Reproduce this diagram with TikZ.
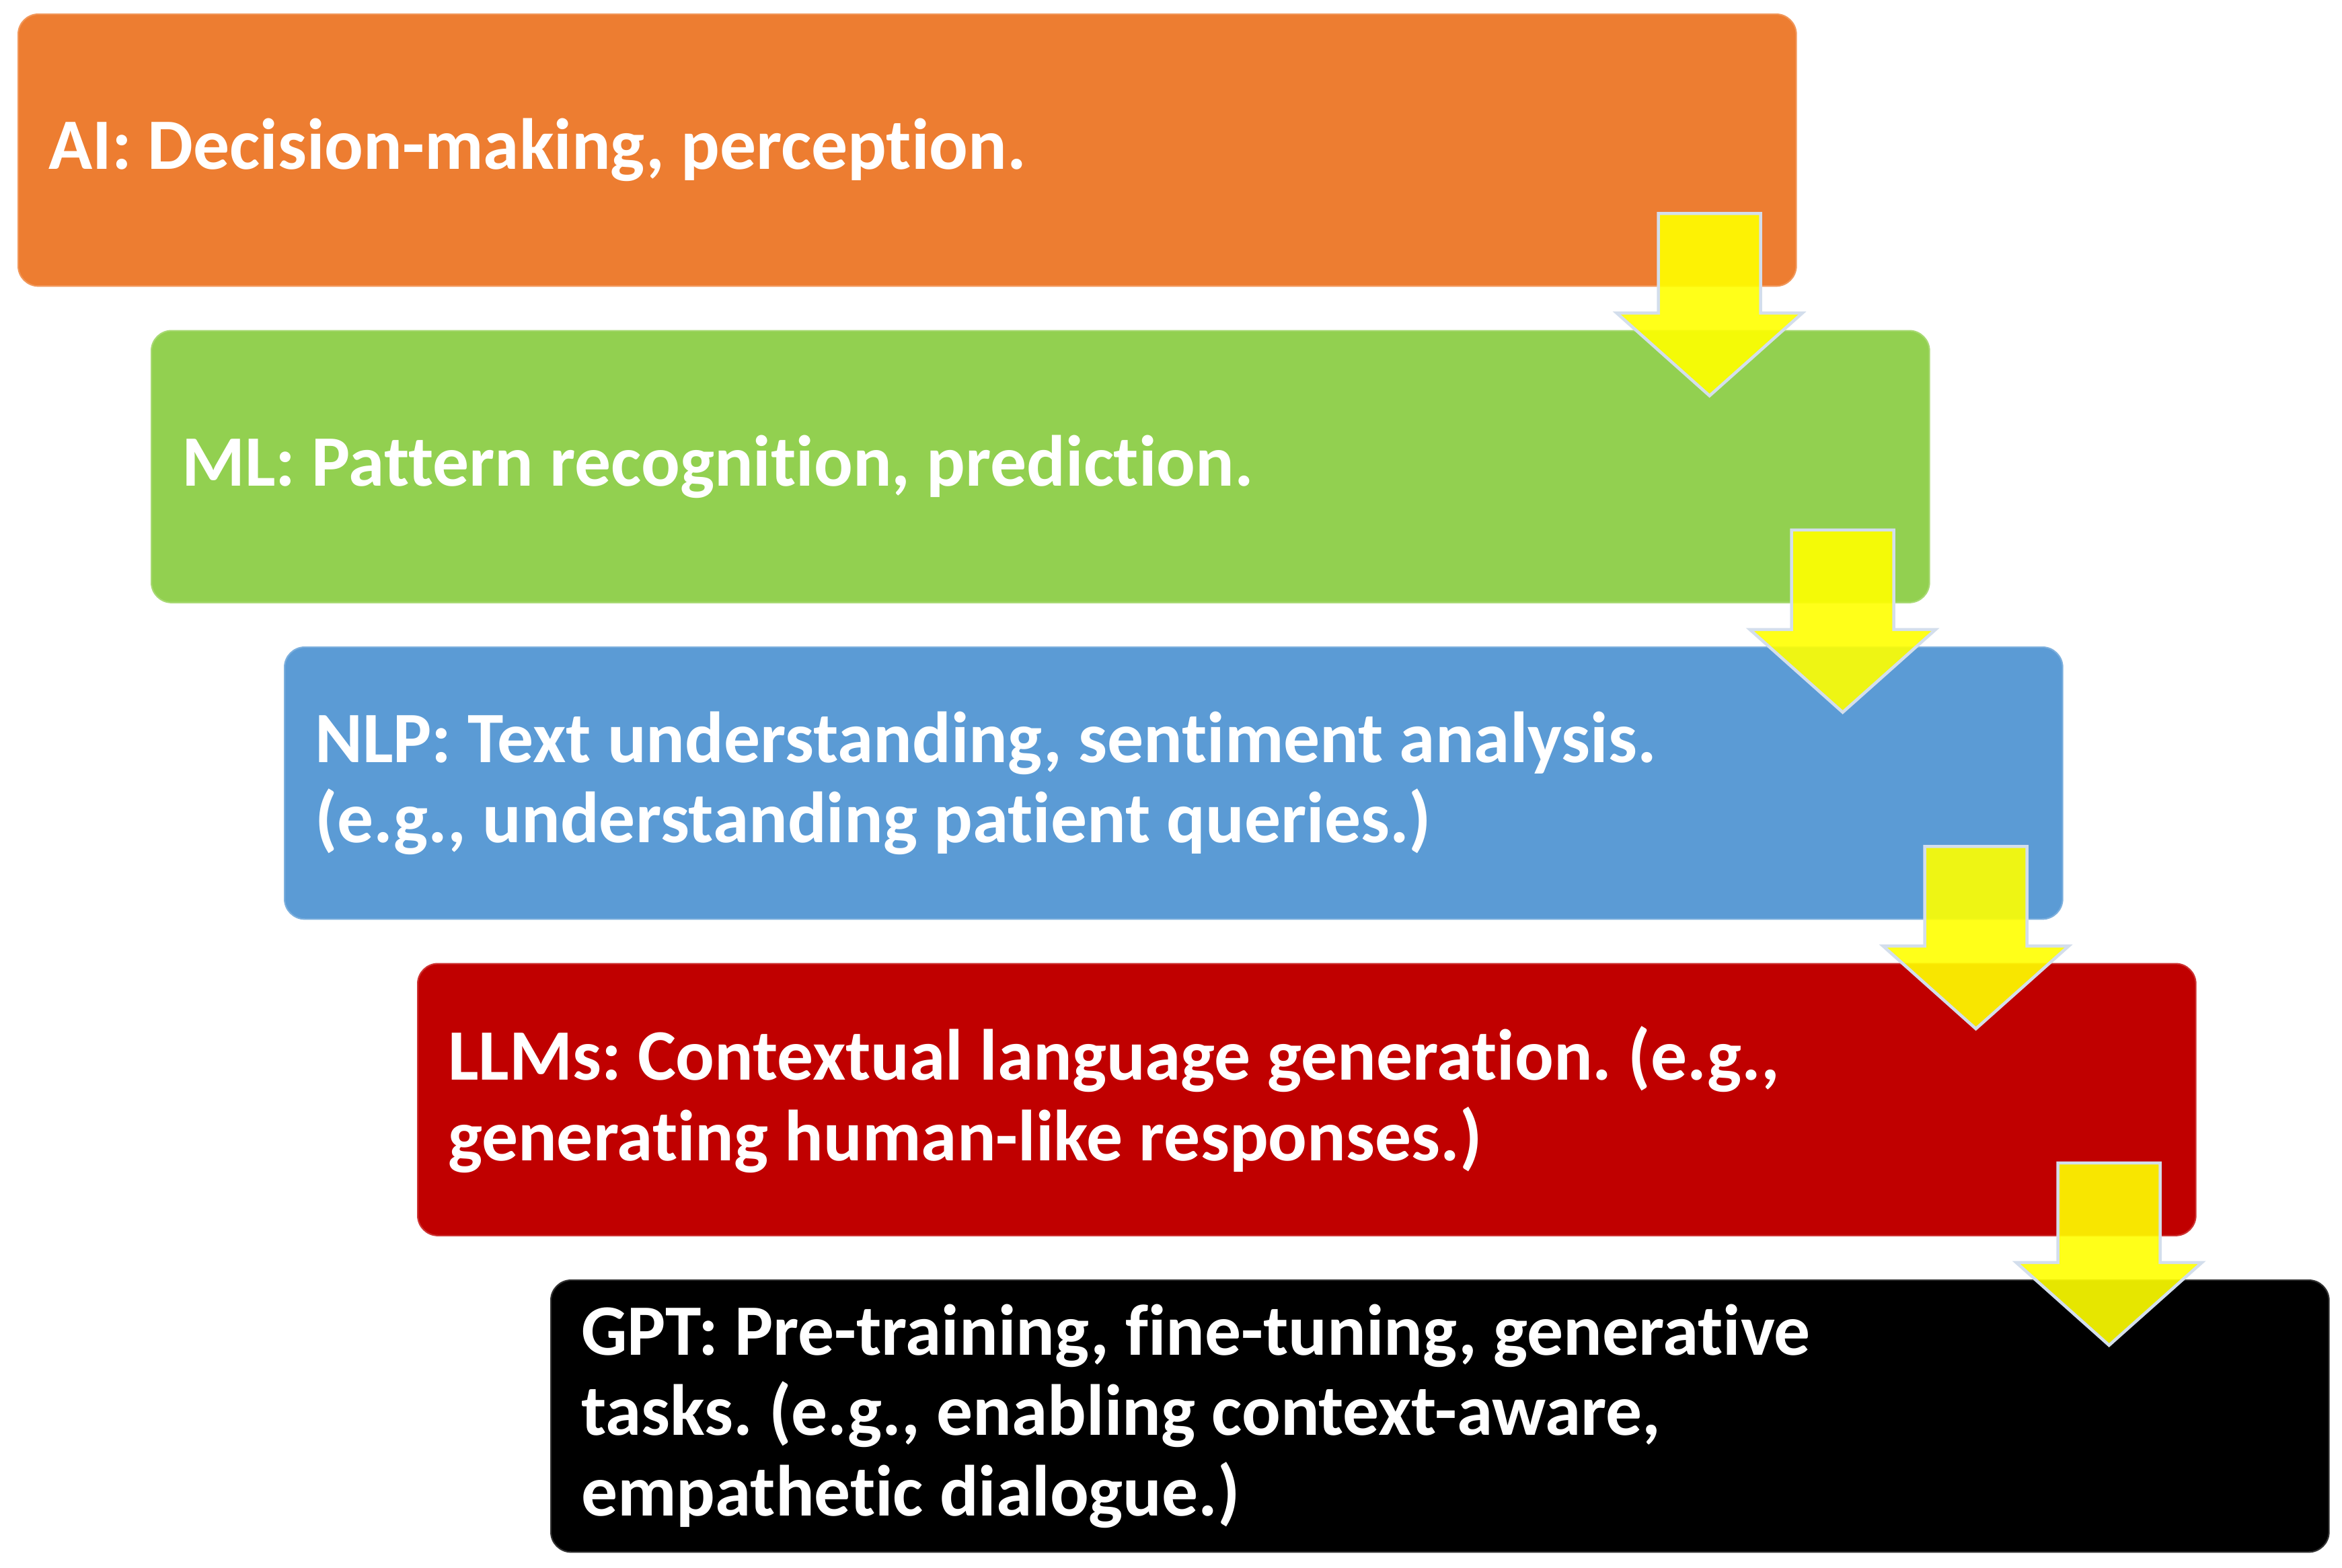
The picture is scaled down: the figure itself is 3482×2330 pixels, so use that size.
\documentclass[tikz,border=0pt]{standalone}
\usepackage{fontspec}
\setmainfont{Carlito}[Ligatures=NoCommon]
\usetikzlibrary{calc}
\definecolor{cAI}{HTML}{ED7D31}
\definecolor{cML}{HTML}{92D050}
\definecolor{cNLP}{HTML}{5B9BD5}
\definecolor{cLLM}{HTML}{C00000}
\definecolor{cGPT}{HTML}{000000}
\definecolor{arrowfill}{HTML}{FFFF00}
\definecolor{arrowline}{HTML}{D3DEEC}
\newcommand{\stagefont}{\fontsize{30.6pt}{34pt}\selectfont\bfseries}
\newcommand{\stagespacing}{\spaceskip=0.226em\relax\xspaceskip=0.226em\relax}
\tikzset{
  stagebox/.style={draw=#1!80!white, line width=0.6pt, fill=#1, rounded corners=0.3cm,
    anchor=north west, minimum height=4.04cm, text width=25.52cm, inner xsep=0.45cm,
    align=left, text=white, font=\stagefont, execute at begin node=\stagespacing},
  blockarrow/.style={draw=arrowline, line width=1.3pt, fill=arrowfill,
    fill opacity=0.9, line join=miter}
}
\newcommand{\downarrowshape}[1]{%
  \path[blockarrow] ($(#1)+(-76,0)$) -- ++(152,0) -- ++(0,148) -- ++(62,0) -- ++(-138,123)
    -- ++(-138,-123) -- ++(62,0) -- cycle;}
\begin{document}
\begin{tikzpicture}[x=0.01cm, y=-0.01cm]
\useasboundingbox (0,0) rectangle (3482,2330);
\node[stagebox=cAI]  (b1) at (26,20)     {AI: Decision-making, perception.};
\node[stagebox=cML]  (b2) at (224,490.5)  {ML: Pattern recognition, prediction.};
\node[stagebox=cNLP] (b3) at (422,961)   {NLP: Text understanding, sentiment analysis.\\(e.g., understanding patient queries.)};
\node[stagebox=cLLM] (b4) at (620,1431.5) {LLMs: Contextual language generation. (e.g.,\\generating human-like responses.)};
\node[stagebox=cGPT] (b5) at (818,1902)  {GPT: Pre-training, fine-tuning, generative\\tasks. (e.g., enabling context-aware,\\empathetic dialogue.)};
\foreach \i in {1,2,3,4}{
  \coordinate (a\i) at ($(b\i.south east)+(-130,-109)$);
  \downarrowshape{a\i}
}
\end{tikzpicture}
\end{document}
